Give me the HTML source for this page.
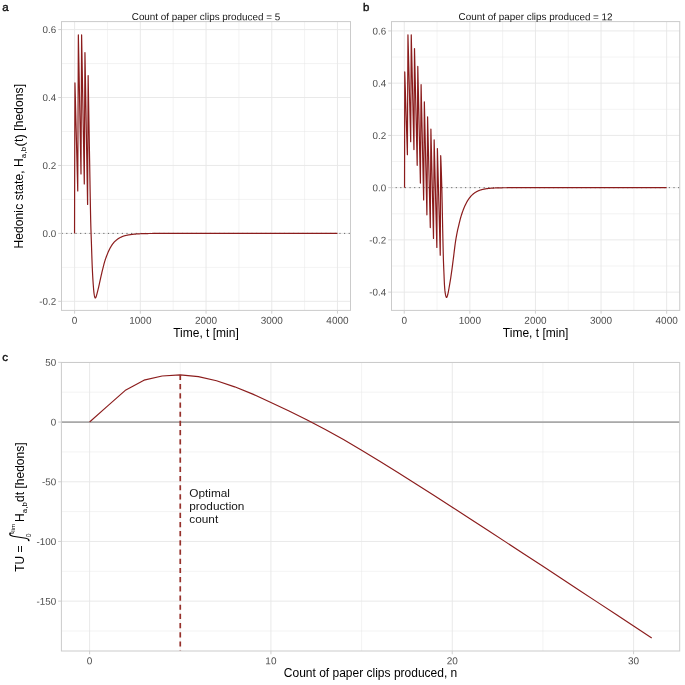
<!DOCTYPE html>
<html lang="en">
<head>
<meta charset="utf-8">
<title>Hedonic state and total utility of paper clip production</title>
<style>html,body{margin:0;padding:0;background:#fff}svg{display:block}</style>
</head>
<body>
<svg width="685" height="685" viewBox="0 0 685 685" font-family='"Liberation Sans", sans-serif'>
<rect width="685" height="685" fill="#ffffff"/>
<line x1="107.46" y1="21.6" x2="107.46" y2="310.4" stroke="#e7e7e7" stroke-width="0.5"/>
<line x1="173.18" y1="21.6" x2="173.18" y2="310.4" stroke="#e7e7e7" stroke-width="0.5"/>
<line x1="238.90" y1="21.6" x2="238.90" y2="310.4" stroke="#e7e7e7" stroke-width="0.5"/>
<line x1="304.62" y1="21.6" x2="304.62" y2="310.4" stroke="#e7e7e7" stroke-width="0.5"/>
<line x1="61.5" y1="267.37" x2="350.5" y2="267.37" stroke="#e7e7e7" stroke-width="0.5"/>
<line x1="61.5" y1="199.43" x2="350.5" y2="199.43" stroke="#e7e7e7" stroke-width="0.5"/>
<line x1="61.5" y1="131.49" x2="350.5" y2="131.49" stroke="#e7e7e7" stroke-width="0.5"/>
<line x1="61.5" y1="63.55" x2="350.5" y2="63.55" stroke="#e7e7e7" stroke-width="0.5"/>
<line x1="74.60" y1="21.6" x2="74.60" y2="310.4" stroke="#e7e7e7" stroke-width="0.92"/>
<line x1="140.32" y1="21.6" x2="140.32" y2="310.4" stroke="#e7e7e7" stroke-width="0.92"/>
<line x1="206.04" y1="21.6" x2="206.04" y2="310.4" stroke="#e7e7e7" stroke-width="0.92"/>
<line x1="271.76" y1="21.6" x2="271.76" y2="310.4" stroke="#e7e7e7" stroke-width="0.92"/>
<line x1="337.48" y1="21.6" x2="337.48" y2="310.4" stroke="#e7e7e7" stroke-width="0.92"/>
<line x1="61.5" y1="301.34" x2="350.5" y2="301.34" stroke="#e7e7e7" stroke-width="0.92"/>
<line x1="61.5" y1="233.40" x2="350.5" y2="233.40" stroke="#e7e7e7" stroke-width="0.92"/>
<line x1="61.5" y1="165.46" x2="350.5" y2="165.46" stroke="#e7e7e7" stroke-width="0.92"/>
<line x1="61.5" y1="97.52" x2="350.5" y2="97.52" stroke="#e7e7e7" stroke-width="0.92"/>
<line x1="61.5" y1="29.58" x2="350.5" y2="29.58" stroke="#e7e7e7" stroke-width="0.92"/>
<line x1="61.5" y1="233.40" x2="350.5" y2="233.40" stroke="#666" stroke-width="1.0" stroke-dasharray="1.15 3.48" stroke-dashoffset="-0.1"/>
<path d="M74.55 233.45 L74.60 200.00 L74.95 82.90 L77.75 191.00 L78.35 34.90 L81.00 174.00 L81.60 34.90 L84.30 184.00 L84.95 52.60 L87.60 204.40 L88.15 75.50 L88.40 90.53 L88.65 105.37 L88.90 120.01 L89.15 134.46 L89.40 148.72 L89.65 162.83 L89.90 177.56 L90.15 192.49 L90.40 206.61 L90.65 218.91 L90.90 228.44 L91.15 235.66 L91.40 242.50 L91.65 250.16 L91.90 257.88 L92.15 264.72 L92.40 270.28 L92.65 275.25 L92.90 279.63 L93.15 283.40 L93.40 286.75 L93.65 289.78 L93.90 292.33 L94.15 294.23 L94.40 295.71 L94.65 296.81 L94.90 297.46 L95.15 297.91 L95.40 297.97 L95.65 297.71 L95.90 297.30 L96.15 296.68 L96.40 295.81 L96.65 294.93 L96.90 294.05 L97.15 293.14 L97.40 292.19 L97.65 291.21 L97.90 290.22 L98.15 289.20 L98.40 288.15 L98.65 287.07 L98.90 285.95 L99.15 284.81 L99.40 283.66 L99.65 282.49 L99.90 281.33 L100.15 280.17 L100.40 279.04 L100.65 277.92 L100.90 276.82 L101.15 275.73 L101.40 274.63 L101.65 273.54 L101.90 272.46 L102.15 271.39 L102.40 270.34 L102.65 269.31 L102.90 268.30 L103.15 267.31 L103.40 266.33 L103.65 265.36 L103.90 264.40 L104.15 263.46 L104.40 262.56 L104.65 261.68 L104.90 260.85 L105.15 260.06 L105.40 259.30 L105.65 258.58 L105.90 257.89 L106.15 257.21 L106.40 256.55 L106.65 255.90 L106.90 255.26 L107.15 254.61 L107.40 253.98 L107.65 253.35 L107.90 252.73 L108.15 252.13 L108.40 251.55 L108.65 250.99 L108.90 250.45 L109.15 249.94 L109.40 249.43 L109.65 248.94 L109.90 248.46 L110.15 248.00 L110.40 247.55 L110.65 247.11 L110.90 246.68 L111.15 246.27 L111.40 245.86 L111.65 245.47 L111.90 245.08 L112.15 244.70 L112.40 244.34 L112.65 243.99 L112.90 243.66 L113.15 243.34 L113.40 243.03 L113.65 242.74 L113.90 242.45 L114.15 242.18 L114.40 241.92 L114.65 241.66 L114.90 241.41 L115.15 241.17 L115.40 240.93 L115.65 240.71 L115.90 240.48 L116.15 240.27 L116.40 240.05 L116.65 239.85 L116.90 239.65 L117.15 239.46 L117.40 239.27 L117.65 239.09 L117.90 238.92 L118.15 238.75 L118.40 238.58 L118.65 238.42 L118.90 238.26 L119.15 238.11 L119.40 237.97 L119.65 237.83 L119.90 237.69 L120.15 237.56 L120.40 237.44 L120.65 237.31 L120.90 237.20 L121.15 237.08 L121.40 236.97 L121.65 236.86 L121.90 236.75 L122.15 236.64 L122.40 236.54 L122.65 236.43 L122.90 236.33 L123.15 236.23 L123.40 236.14 L123.65 236.05 L123.90 235.96 L124.15 235.88 L124.40 235.81 L124.65 235.74 L124.90 235.68 L125.15 235.61 L125.40 235.55 L125.65 235.49 L125.90 235.44 L126.15 235.38 L126.40 235.33 L126.65 235.28 L126.90 235.23 L127.15 235.18 L127.40 235.13 L127.65 235.08 L127.90 235.04 L128.15 234.99 L128.40 234.95 L128.65 234.91 L128.90 234.87 L129.15 234.83 L129.40 234.79 L129.65 234.75 L129.90 234.71 L130.15 234.68 L130.40 234.64 L130.65 234.61 L130.90 234.57 L131.15 234.54 L131.40 234.50 L131.65 234.47 L131.90 234.44 L132.15 234.41 L132.40 234.38 L132.65 234.35 L132.90 234.32 L133.15 234.29 L133.40 234.26 L133.65 234.23 L133.90 234.20 L134.15 234.18 L134.40 234.15 L134.65 234.13 L134.90 234.11 L135.15 234.09 L135.40 234.07 L135.65 234.05 L135.90 234.03 L136.15 234.01 L136.40 233.99 L136.65 233.97 L136.90 233.95 L137.15 233.93 L137.40 233.91 L137.65 233.89 L137.90 233.88 L138.15 233.86 L138.40 233.85 L138.65 233.83 L138.90 233.82 L139.15 233.80 L139.40 233.79 L139.65 233.78 L139.90 233.77 L140.15 233.76 L140.40 233.75 L140.65 233.74 L140.90 233.73 L141.15 233.72 L141.40 233.71 L141.65 233.70 L141.90 233.69 L142.15 233.68 L142.40 233.67 L142.65 233.67 L142.90 233.66 L143.15 233.65 L143.40 233.64 L143.65 233.63 L143.90 233.63 L144.15 233.62 L144.40 233.61 L144.65 233.60 L144.90 233.60 L145.15 233.59 L145.40 233.58 L145.65 233.58 L145.90 233.57 L146.15 233.57 L146.40 233.56 L146.65 233.56 L146.90 233.55 L147.15 233.54 L147.40 233.54 L147.65 233.54 L147.90 233.53 L148.15 233.53 L148.40 233.52 L148.65 233.52 L148.90 233.51 L149.15 233.51 L149.40 233.51 L149.65 233.50 L149.90 233.50 L150.15 233.50 L150.40 233.50 L150.65 233.49 L150.90 233.49 L151.15 233.49 L151.40 233.48 L151.65 233.48 L151.90 233.48 L152.15 233.48 L152.40 233.47 L152.65 233.47 L152.90 233.47 L153.15 233.47 L153.40 233.46 L153.65 233.46 L153.90 233.46 L154.15 233.46 L154.40 233.45 L154.65 233.45 L154.90 233.45 L155.15 233.45 L155.40 233.45 L155.65 233.44 L155.90 233.44 L156.15 233.44 L156.40 233.44 L156.65 233.44 L156.90 233.43 L157.15 233.43 L157.40 233.43 L157.65 233.43 L157.90 233.43 L158.15 233.42 L158.40 233.42 L158.65 233.42 L158.90 233.42 L159.15 233.42 L159.40 233.42 L159.65 233.42 L159.90 233.41 L160.15 233.41 L160.40 233.41 L160.65 233.41 L160.90 233.41 L161.15 233.41 L161.40 233.41 L161.65 233.41 L161.90 233.41 L162.15 233.40 L162.40 233.40 L162.65 233.40 L162.90 233.40 L163.15 233.40 L163.40 233.40 L163.65 233.40 L163.90 233.40 L164.15 233.40 L164.40 233.40 L164.65 233.40 L164.90 233.40 L165.15 233.40 L165.40 233.40 L165.65 233.40 L165.90 233.40 L166.15 233.40 L166.40 233.40 L166.65 233.40 L166.90 233.40 L167.15 233.40 L167.40 233.40 L167.65 233.40 L167.90 233.40 L168.15 233.40 L168.40 233.40 L168.65 233.40 L168.90 233.40 L169.15 233.40 L169.40 233.40 L169.65 233.40 L169.90 233.40 L170.15 233.40 L170.40 233.40 L170.65 233.40 L170.90 233.40 L171.15 233.40 L171.40 233.40 L171.65 233.40 L171.90 233.40 L172.15 233.40 L172.40 233.40 L172.65 233.40 L172.90 233.40 L173.15 233.40 L173.40 233.40 L173.65 233.40 L173.90 233.40 L174.15 233.40 L174.40 233.40 L174.65 233.40 L174.90 233.40 L175.15 233.40 L175.40 233.40 L175.65 233.40 L175.90 233.40 L176.15 233.40 L176.40 233.40 L176.65 233.40 L176.90 233.40 L177.15 233.40 L177.40 233.40 L177.65 233.40 L177.90 233.40 L178.15 233.40 L178.40 233.40 L178.65 233.40 L178.90 233.40 L179.15 233.40 L179.40 233.40 L179.65 233.40 L179.90 233.40 L337.48 233.40" fill="none" stroke="#8b1c1c" stroke-width="1.2" stroke-linejoin="round" stroke-linecap="butt" />
<rect x="61.5" y="21.6" width="289.0" height="288.79999999999995" fill="none" stroke="#cbcbcb" stroke-width="1"/>
<line x1="74.60" y1="310.4" x2="74.60" y2="313.7" stroke="#cccccc" stroke-width="0.9"/>
<text transform="translate(74.60 323.75) rotate(0.05)" text-anchor="middle" font-size="10.0" fill="#4d4d4d">0</text>
<line x1="140.32" y1="310.4" x2="140.32" y2="313.7" stroke="#cccccc" stroke-width="0.9"/>
<text transform="translate(140.32 323.75) rotate(0.05)" text-anchor="middle" font-size="10.0" fill="#4d4d4d">1000</text>
<line x1="206.04" y1="310.4" x2="206.04" y2="313.7" stroke="#cccccc" stroke-width="0.9"/>
<text transform="translate(206.04 323.75) rotate(0.05)" text-anchor="middle" font-size="10.0" fill="#4d4d4d">2000</text>
<line x1="271.76" y1="310.4" x2="271.76" y2="313.7" stroke="#cccccc" stroke-width="0.9"/>
<text transform="translate(271.76 323.75) rotate(0.05)" text-anchor="middle" font-size="10.0" fill="#4d4d4d">3000</text>
<line x1="337.48" y1="310.4" x2="337.48" y2="313.7" stroke="#cccccc" stroke-width="0.9"/>
<text transform="translate(337.48 323.75) rotate(0.05)" text-anchor="middle" font-size="10.0" fill="#4d4d4d">4000</text>
<line x1="58.2" y1="301.34" x2="61.5" y2="301.34" stroke="#cccccc" stroke-width="0.9"/>
<text transform="translate(56.20 304.84) rotate(0.05)" text-anchor="end" font-size="9.8" fill="#4d4d4d">-0.2</text>
<line x1="58.2" y1="233.40" x2="61.5" y2="233.40" stroke="#cccccc" stroke-width="0.9"/>
<text transform="translate(56.20 236.90) rotate(0.05)" text-anchor="end" font-size="9.8" fill="#4d4d4d">0.0</text>
<line x1="58.2" y1="165.46" x2="61.5" y2="165.46" stroke="#cccccc" stroke-width="0.9"/>
<text transform="translate(56.20 168.96) rotate(0.05)" text-anchor="end" font-size="9.8" fill="#4d4d4d">0.2</text>
<line x1="58.2" y1="97.52" x2="61.5" y2="97.52" stroke="#cccccc" stroke-width="0.9"/>
<text transform="translate(56.20 101.02) rotate(0.05)" text-anchor="end" font-size="9.8" fill="#4d4d4d">0.4</text>
<line x1="58.2" y1="29.58" x2="61.5" y2="29.58" stroke="#cccccc" stroke-width="0.9"/>
<text transform="translate(56.20 33.08) rotate(0.05)" text-anchor="end" font-size="9.8" fill="#4d4d4d">0.6</text>
<text transform="translate(206.00 20.1) rotate(0.05)" text-anchor="middle" font-size="9.9" fill="#151515">Count of paper clips produced = 5</text>
<text x="206.00" y="336.6" text-anchor="middle" font-size="12" fill="#000">Time, t [min]</text>
<text transform="translate(23.3 248.5) rotate(-90)" font-size="12" fill="#000" letter-spacing="0.1">Hedonic state, H<tspan font-size="7.8" dy="3.0" letter-spacing="0.2">a,b</tspan><tspan dy="-2.6" dx="0.3" font-size="13">(</tspan><tspan dy="-0.4">t</tspan><tspan dy="0.4" font-size="13">)</tspan><tspan dy="-0.4"> [hedons]</tspan></text>
<text x="2.3" y="11.45" font-size="11.5" fill="#111" stroke="#111" stroke-width="0.38">a</text>
<line x1="437.05" y1="21.6" x2="437.05" y2="310.4" stroke="#e7e7e7" stroke-width="0.5"/>
<line x1="502.65" y1="21.6" x2="502.65" y2="310.4" stroke="#e7e7e7" stroke-width="0.5"/>
<line x1="568.25" y1="21.6" x2="568.25" y2="310.4" stroke="#e7e7e7" stroke-width="0.5"/>
<line x1="633.85" y1="21.6" x2="633.85" y2="310.4" stroke="#e7e7e7" stroke-width="0.5"/>
<line x1="391.5" y1="266.01" x2="679.75" y2="266.01" stroke="#e7e7e7" stroke-width="0.5"/>
<line x1="391.5" y1="213.77" x2="679.75" y2="213.77" stroke="#e7e7e7" stroke-width="0.5"/>
<line x1="391.5" y1="161.53" x2="679.75" y2="161.53" stroke="#e7e7e7" stroke-width="0.5"/>
<line x1="391.5" y1="109.29" x2="679.75" y2="109.29" stroke="#e7e7e7" stroke-width="0.5"/>
<line x1="391.5" y1="57.05" x2="679.75" y2="57.05" stroke="#e7e7e7" stroke-width="0.5"/>
<line x1="404.25" y1="21.6" x2="404.25" y2="310.4" stroke="#e7e7e7" stroke-width="0.92"/>
<line x1="469.85" y1="21.6" x2="469.85" y2="310.4" stroke="#e7e7e7" stroke-width="0.92"/>
<line x1="535.45" y1="21.6" x2="535.45" y2="310.4" stroke="#e7e7e7" stroke-width="0.92"/>
<line x1="601.05" y1="21.6" x2="601.05" y2="310.4" stroke="#e7e7e7" stroke-width="0.92"/>
<line x1="666.65" y1="21.6" x2="666.65" y2="310.4" stroke="#e7e7e7" stroke-width="0.92"/>
<line x1="391.5" y1="292.13" x2="679.75" y2="292.13" stroke="#e7e7e7" stroke-width="0.92"/>
<line x1="391.5" y1="239.89" x2="679.75" y2="239.89" stroke="#e7e7e7" stroke-width="0.92"/>
<line x1="391.5" y1="187.65" x2="679.75" y2="187.65" stroke="#e7e7e7" stroke-width="0.92"/>
<line x1="391.5" y1="135.41" x2="679.75" y2="135.41" stroke="#e7e7e7" stroke-width="0.92"/>
<line x1="391.5" y1="83.17" x2="679.75" y2="83.17" stroke="#e7e7e7" stroke-width="0.92"/>
<line x1="391.5" y1="30.93" x2="679.75" y2="30.93" stroke="#e7e7e7" stroke-width="0.92"/>
<line x1="391.5" y1="187.65" x2="679.75" y2="187.65" stroke="#666" stroke-width="1.0" stroke-dasharray="1.15 3.48" stroke-dashoffset="0.5"/>
<path d="M404.55 187.65 L404.75 71.90 L407.40 154.70 L407.95 34.85 L410.70 141.70 L411.25 34.85 L413.95 149.60 L414.50 48.50 L417.20 165.30 L417.80 66.40 L420.40 183.10 L421.10 84.70 L423.65 200.00 L424.35 101.80 L426.90 214.80 L427.60 116.80 L430.30 227.60 L430.90 129.00 L433.50 238.50 L434.15 139.80 L436.85 247.40 L437.40 148.50 L440.25 255.20 L440.70 155.70 L440.95 161.30 L441.20 168.00 L441.45 175.64 L441.70 184.06 L441.95 193.49 L442.20 205.04 L442.45 217.70 L442.70 230.25 L442.95 241.54 L443.20 252.09 L443.45 260.91 L443.70 267.51 L443.95 273.34 L444.20 279.45 L444.45 284.83 L444.70 288.32 L444.95 290.92 L445.20 292.87 L445.45 294.38 L445.70 295.57 L445.95 296.40 L446.20 297.10 L446.45 297.49 L446.70 297.37 L446.95 296.94 L447.20 296.34 L447.45 295.68 L447.70 294.78 L447.95 293.70 L448.20 292.57 L448.45 291.32 L448.70 289.94 L448.95 288.48 L449.20 287.01 L449.45 285.57 L449.70 284.13 L449.95 282.68 L450.20 281.18 L450.45 279.64 L450.70 278.04 L450.95 276.39 L451.20 274.69 L451.45 272.95 L451.70 271.17 L451.95 269.33 L452.20 267.46 L452.45 265.55 L452.70 263.63 L452.95 261.69 L453.20 259.75 L453.45 257.81 L453.70 255.82 L453.95 253.77 L454.20 251.69 L454.45 249.62 L454.70 247.58 L454.95 245.62 L455.20 243.75 L455.45 242.03 L455.70 240.43 L455.95 238.91 L456.20 237.45 L456.45 236.04 L456.70 234.69 L456.95 233.39 L457.20 232.13 L457.45 230.91 L457.70 229.73 L457.95 228.62 L458.20 227.56 L458.45 226.54 L458.70 225.53 L458.95 224.51 L459.20 223.46 L459.45 222.41 L459.70 221.36 L459.95 220.33 L460.20 219.35 L460.45 218.42 L460.70 217.53 L460.95 216.67 L461.20 215.83 L461.45 215.02 L461.70 214.23 L461.95 213.47 L462.20 212.74 L462.45 212.03 L462.70 211.33 L462.95 210.66 L463.20 209.99 L463.45 209.34 L463.70 208.71 L463.95 208.09 L464.20 207.48 L464.45 206.89 L464.70 206.32 L464.95 205.76 L465.20 205.21 L465.45 204.68 L465.70 204.17 L465.95 203.66 L466.20 203.17 L466.45 202.70 L466.70 202.23 L466.95 201.79 L467.20 201.35 L467.45 200.93 L467.70 200.52 L467.95 200.13 L468.20 199.74 L468.45 199.36 L468.70 198.99 L468.95 198.63 L469.20 198.29 L469.45 197.95 L469.70 197.63 L469.95 197.33 L470.20 197.03 L470.45 196.74 L470.70 196.45 L470.95 196.17 L471.20 195.90 L471.45 195.64 L471.70 195.38 L471.95 195.13 L472.20 194.88 L472.45 194.65 L472.70 194.42 L472.95 194.20 L473.20 193.98 L473.45 193.78 L473.70 193.58 L473.95 193.38 L474.20 193.20 L474.45 193.02 L474.70 192.84 L474.95 192.67 L475.20 192.50 L475.45 192.34 L475.70 192.19 L475.95 192.04 L476.20 191.90 L476.45 191.76 L476.70 191.62 L476.95 191.49 L477.20 191.36 L477.45 191.24 L477.70 191.12 L477.95 191.00 L478.20 190.89 L478.45 190.78 L478.70 190.68 L478.95 190.58 L479.20 190.48 L479.45 190.39 L479.70 190.30 L479.95 190.21 L480.20 190.12 L480.45 190.04 L480.70 189.96 L480.95 189.88 L481.20 189.81 L481.45 189.74 L481.70 189.67 L481.95 189.60 L482.20 189.53 L482.45 189.47 L482.70 189.41 L482.95 189.35 L483.20 189.29 L483.45 189.24 L483.70 189.18 L483.95 189.13 L484.20 189.08 L484.45 189.04 L484.70 188.99 L484.95 188.95 L485.20 188.91 L485.45 188.87 L485.70 188.83 L485.95 188.79 L486.20 188.75 L486.45 188.71 L486.70 188.68 L486.95 188.64 L487.20 188.61 L487.45 188.58 L487.70 188.54 L487.95 188.51 L488.20 188.48 L488.45 188.45 L488.70 188.43 L488.95 188.40 L489.20 188.37 L489.45 188.35 L489.70 188.33 L489.95 188.30 L490.20 188.28 L490.45 188.26 L490.70 188.24 L490.95 188.22 L491.20 188.21 L491.45 188.19 L491.70 188.17 L491.95 188.15 L492.20 188.13 L492.45 188.12 L492.70 188.10 L492.95 188.09 L493.20 188.07 L493.45 188.06 L493.70 188.04 L493.95 188.03 L494.20 188.02 L494.45 188.00 L494.70 187.99 L494.95 187.98 L495.20 187.97 L495.45 187.96 L495.70 187.95 L495.95 187.94 L496.20 187.93 L496.45 187.93 L496.70 187.92 L496.95 187.91 L497.20 187.90 L497.45 187.89 L497.70 187.89 L497.95 187.88 L498.20 187.87 L498.45 187.87 L498.70 187.86 L498.95 187.85 L499.20 187.85 L499.45 187.84 L499.70 187.83 L499.95 187.83 L500.20 187.82 L500.45 187.81 L500.70 187.81 L500.95 187.80 L501.20 187.80 L501.45 187.79 L501.70 187.79 L501.95 187.78 L502.20 187.78 L502.45 187.77 L502.70 187.77 L502.95 187.76 L503.20 187.76 L503.45 187.76 L503.70 187.75 L503.95 187.75 L504.20 187.75 L504.45 187.74 L504.70 187.74 L504.95 187.74 L505.20 187.74 L505.45 187.73 L505.70 187.73 L505.95 187.73 L506.20 187.73 L506.45 187.73 L506.70 187.73 L506.95 187.72 L507.20 187.72 L507.45 187.72 L507.70 187.72 L507.95 187.72 L508.20 187.72 L508.45 187.72 L508.70 187.72 L508.95 187.71 L509.20 187.71 L509.45 187.71 L509.70 187.71 L509.95 187.71 L510.20 187.71 L510.45 187.71 L510.70 187.71 L510.95 187.71 L511.20 187.70 L511.45 187.70 L511.70 187.70 L511.95 187.70 L512.20 187.70 L512.45 187.70 L512.70 187.70 L512.95 187.70 L513.20 187.70 L513.45 187.70 L513.70 187.69 L513.95 187.69 L514.20 187.69 L514.45 187.69 L514.70 187.69 L514.95 187.69 L515.20 187.69 L515.45 187.69 L515.70 187.69 L515.95 187.69 L516.20 187.69 L516.45 187.69 L516.70 187.68 L516.95 187.68 L517.20 187.68 L517.45 187.68 L517.70 187.68 L517.95 187.68 L518.20 187.68 L518.45 187.68 L518.70 187.68 L518.95 187.68 L519.20 187.68 L519.45 187.68 L519.70 187.68 L519.95 187.68 L520.20 187.68 L520.45 187.67 L520.70 187.67 L520.95 187.67 L521.20 187.67 L521.45 187.67 L521.70 187.67 L521.95 187.67 L522.20 187.67 L522.45 187.67 L522.70 187.67 L522.95 187.67 L523.20 187.67 L523.45 187.67 L523.70 187.67 L523.95 187.67 L524.20 187.67 L524.45 187.67 L524.70 187.67 L524.95 187.67 L525.20 187.67 L525.45 187.67 L525.70 187.67 L525.95 187.66 L526.20 187.66 L526.45 187.66 L526.70 187.66 L526.95 187.66 L527.20 187.66 L527.45 187.66 L527.70 187.66 L527.95 187.66 L528.20 187.66 L528.45 187.66 L528.70 187.66 L528.95 187.66 L529.20 187.66 L529.45 187.66 L529.70 187.66 L529.95 187.66 L530.20 187.66 L530.45 187.66 L530.70 187.66 L530.95 187.66 L531.20 187.66 L531.45 187.66 L531.70 187.66 L531.95 187.66 L532.20 187.66 L532.45 187.66 L532.70 187.66 L532.95 187.66 L533.20 187.66 L533.45 187.66 L533.70 187.66 L533.95 187.66 L534.20 187.66 L534.45 187.66 L534.70 187.66 L534.95 187.66 L535.20 187.65 L535.45 187.65 L535.70 187.65 L535.95 187.65 L536.20 187.65 L536.45 187.65 L536.70 187.65 L536.95 187.65 L537.20 187.65 L537.45 187.65 L537.70 187.65 L537.95 187.65 L538.20 187.65 L538.45 187.65 L538.70 187.65 L538.95 187.65 L539.20 187.65 L539.45 187.65 L539.70 187.65 L539.95 187.65 L540.20 187.65 L540.45 187.65 L540.70 187.65 L540.95 187.65 L541.20 187.65 L541.45 187.65 L541.70 187.65 L541.95 187.65 L542.20 187.65 L542.45 187.65 L542.70 187.65 L542.95 187.65 L543.20 187.65 L543.45 187.65 L543.70 187.65 L543.95 187.65 L544.20 187.65 L544.45 187.65 L544.70 187.65 L544.95 187.65 L666.65 187.65" fill="none" stroke="#8b1c1c" stroke-width="1.2" stroke-linejoin="round" stroke-linecap="butt" />
<rect x="391.5" y="21.6" width="288.25" height="288.79999999999995" fill="none" stroke="#cbcbcb" stroke-width="1"/>
<line x1="404.25" y1="310.4" x2="404.25" y2="313.7" stroke="#cccccc" stroke-width="0.9"/>
<text transform="translate(404.25 323.75) rotate(0.05)" text-anchor="middle" font-size="10.0" fill="#4d4d4d">0</text>
<line x1="469.85" y1="310.4" x2="469.85" y2="313.7" stroke="#cccccc" stroke-width="0.9"/>
<text transform="translate(469.85 323.75) rotate(0.05)" text-anchor="middle" font-size="10.0" fill="#4d4d4d">1000</text>
<line x1="535.45" y1="310.4" x2="535.45" y2="313.7" stroke="#cccccc" stroke-width="0.9"/>
<text transform="translate(535.45 323.75) rotate(0.05)" text-anchor="middle" font-size="10.0" fill="#4d4d4d">2000</text>
<line x1="601.05" y1="310.4" x2="601.05" y2="313.7" stroke="#cccccc" stroke-width="0.9"/>
<text transform="translate(601.05 323.75) rotate(0.05)" text-anchor="middle" font-size="10.0" fill="#4d4d4d">3000</text>
<line x1="666.65" y1="310.4" x2="666.65" y2="313.7" stroke="#cccccc" stroke-width="0.9"/>
<text transform="translate(666.65 323.75) rotate(0.05)" text-anchor="middle" font-size="10.0" fill="#4d4d4d">4000</text>
<line x1="388.2" y1="292.13" x2="391.5" y2="292.13" stroke="#cccccc" stroke-width="0.9"/>
<text transform="translate(386.20 295.63) rotate(0.05)" text-anchor="end" font-size="9.8" fill="#4d4d4d">-0.4</text>
<line x1="388.2" y1="239.89" x2="391.5" y2="239.89" stroke="#cccccc" stroke-width="0.9"/>
<text transform="translate(386.20 243.39) rotate(0.05)" text-anchor="end" font-size="9.8" fill="#4d4d4d">-0.2</text>
<line x1="388.2" y1="187.65" x2="391.5" y2="187.65" stroke="#cccccc" stroke-width="0.9"/>
<text transform="translate(386.20 191.15) rotate(0.05)" text-anchor="end" font-size="9.8" fill="#4d4d4d">0.0</text>
<line x1="388.2" y1="135.41" x2="391.5" y2="135.41" stroke="#cccccc" stroke-width="0.9"/>
<text transform="translate(386.20 138.91) rotate(0.05)" text-anchor="end" font-size="9.8" fill="#4d4d4d">0.2</text>
<line x1="388.2" y1="83.17" x2="391.5" y2="83.17" stroke="#cccccc" stroke-width="0.9"/>
<text transform="translate(386.20 86.67) rotate(0.05)" text-anchor="end" font-size="9.8" fill="#4d4d4d">0.4</text>
<line x1="388.2" y1="30.93" x2="391.5" y2="30.93" stroke="#cccccc" stroke-width="0.9"/>
<text transform="translate(386.20 34.43) rotate(0.05)" text-anchor="end" font-size="9.8" fill="#4d4d4d">0.6</text>
<text transform="translate(535.62 20.1) rotate(0.05)" text-anchor="middle" font-size="9.9" fill="#151515">Count of paper clips produced = 12</text>
<text x="535.62" y="336.6" text-anchor="middle" font-size="12" fill="#000">Time, t [min]</text>
<text x="363.0" y="11.45" font-size="11.5" fill="#111" stroke="#111" stroke-width="0.38">b</text>
<line x1="180.26" y1="362.5" x2="180.26" y2="651.0" stroke="#e7e7e7" stroke-width="0.5"/>
<line x1="361.60" y1="362.5" x2="361.60" y2="651.0" stroke="#e7e7e7" stroke-width="0.5"/>
<line x1="542.92" y1="362.5" x2="542.92" y2="651.0" stroke="#e7e7e7" stroke-width="0.5"/>
<line x1="61.4" y1="631.00" x2="679.7" y2="631.00" stroke="#e7e7e7" stroke-width="0.5"/>
<line x1="61.4" y1="571.30" x2="679.7" y2="571.30" stroke="#e7e7e7" stroke-width="0.5"/>
<line x1="61.4" y1="511.60" x2="679.7" y2="511.60" stroke="#e7e7e7" stroke-width="0.5"/>
<line x1="61.4" y1="451.90" x2="679.7" y2="451.90" stroke="#e7e7e7" stroke-width="0.5"/>
<line x1="61.4" y1="392.20" x2="679.7" y2="392.20" stroke="#e7e7e7" stroke-width="0.5"/>
<line x1="89.60" y1="362.5" x2="89.60" y2="651.0" stroke="#e7e7e7" stroke-width="0.92"/>
<line x1="270.93" y1="362.5" x2="270.93" y2="651.0" stroke="#e7e7e7" stroke-width="0.92"/>
<line x1="452.26" y1="362.5" x2="452.26" y2="651.0" stroke="#e7e7e7" stroke-width="0.92"/>
<line x1="633.59" y1="362.5" x2="633.59" y2="651.0" stroke="#e7e7e7" stroke-width="0.92"/>
<line x1="61.4" y1="601.15" x2="679.7" y2="601.15" stroke="#e7e7e7" stroke-width="0.92"/>
<line x1="61.4" y1="541.45" x2="679.7" y2="541.45" stroke="#e7e7e7" stroke-width="0.92"/>
<line x1="61.4" y1="481.75" x2="679.7" y2="481.75" stroke="#e7e7e7" stroke-width="0.92"/>
<line x1="61.4" y1="422.05" x2="679.7" y2="422.05" stroke="#e7e7e7" stroke-width="0.92"/>
<line x1="61.4" y1="362.35" x2="679.7" y2="362.35" stroke="#e7e7e7" stroke-width="0.92"/>
<line x1="61.4" y1="422.05" x2="679.7" y2="422.05" stroke="#a9a9a9" stroke-width="1.75"/>
<path d="M89.60 422.05 L107.73 405.93 L125.87 389.93 L144.00 380.14 L162.13 375.96 L180.26 374.89 L198.40 376.68 L216.53 380.74 L234.66 386.83 L252.80 394.11 L270.93 402.59 L289.06 410.95 L307.20 419.90 L325.33 429.45 L343.46 439.60 L361.60 450.23 L379.73 461.21 L397.86 472.44 L415.99 483.90 L434.13 495.48 L452.26 507.18 L470.39 519.00 L488.53 530.82 L506.66 542.64 L524.79 554.46 L542.92 566.29 L561.06 578.23 L579.19 590.17 L597.32 602.11 L615.46 614.05 L633.59 625.99 L651.72 637.93" fill="none" stroke="#8b1c1c" stroke-width="1.15" stroke-linejoin="round" stroke-linecap="butt" />
<line x1="180.26" y1="374.89" x2="180.26" y2="651.0" stroke="#96302a" stroke-width="1.7" stroke-dasharray="5.2 3.99"/>
<rect x="61.4" y="362.5" width="618.3000000000001" height="288.5" fill="none" stroke="#cbcbcb" stroke-width="1"/>
<line x1="89.60" y1="651.0" x2="89.60" y2="654.3" stroke="#cccccc" stroke-width="0.9"/>
<text transform="translate(89.60 664.35) rotate(0.05)" text-anchor="middle" font-size="10.0" fill="#4d4d4d">0</text>
<line x1="270.93" y1="651.0" x2="270.93" y2="654.3" stroke="#cccccc" stroke-width="0.9"/>
<text transform="translate(270.93 664.35) rotate(0.05)" text-anchor="middle" font-size="10.0" fill="#4d4d4d">10</text>
<line x1="452.26" y1="651.0" x2="452.26" y2="654.3" stroke="#cccccc" stroke-width="0.9"/>
<text transform="translate(452.26 664.35) rotate(0.05)" text-anchor="middle" font-size="10.0" fill="#4d4d4d">20</text>
<line x1="633.59" y1="651.0" x2="633.59" y2="654.3" stroke="#cccccc" stroke-width="0.9"/>
<text transform="translate(633.59 664.35) rotate(0.05)" text-anchor="middle" font-size="10.0" fill="#4d4d4d">30</text>
<line x1="58.1" y1="601.15" x2="61.4" y2="601.15" stroke="#cccccc" stroke-width="0.9"/>
<text transform="translate(56.10 604.65) rotate(0.05)" text-anchor="end" font-size="9.8" fill="#4d4d4d">-150</text>
<line x1="58.1" y1="541.45" x2="61.4" y2="541.45" stroke="#cccccc" stroke-width="0.9"/>
<text transform="translate(56.10 544.95) rotate(0.05)" text-anchor="end" font-size="9.8" fill="#4d4d4d">-100</text>
<line x1="58.1" y1="481.75" x2="61.4" y2="481.75" stroke="#cccccc" stroke-width="0.9"/>
<text transform="translate(56.10 485.25) rotate(0.05)" text-anchor="end" font-size="9.8" fill="#4d4d4d">-50</text>
<line x1="58.1" y1="422.05" x2="61.4" y2="422.05" stroke="#cccccc" stroke-width="0.9"/>
<text transform="translate(56.10 425.55) rotate(0.05)" text-anchor="end" font-size="9.8" fill="#4d4d4d">0</text>
<line x1="58.1" y1="362.35" x2="61.4" y2="362.35" stroke="#cccccc" stroke-width="0.9"/>
<text transform="translate(56.10 365.85) rotate(0.05)" text-anchor="end" font-size="9.8" fill="#4d4d4d">50</text>
<text x="370.55" y="677.4" text-anchor="middle" font-size="12" fill="#000">Count of paper clips produced, n</text>
<text x="2.3" y="361.4" font-size="11.5" fill="#111" stroke="#111" stroke-width="0.38">c</text>
<text x="189.3" y="497.30" font-size="11.8" fill="#151515">Optimal</text>
<text x="189.3" y="509.90" font-size="11.8" fill="#151515">production</text>
<text x="189.3" y="522.50" font-size="11.8" fill="#151515">count</text>
<g transform="translate(23.8 571.8) rotate(-90)" fill="#000"><text x="0" y="0" font-size="12">TU = </text><text transform="translate(33.6 1.6) skewX(-9) scale(0.95 1.54)" x="0" y="0" font-size="14" text-anchor="middle">∫</text><text x="34.6" y="7.3" font-size="6.8">0</text><text x="37.9" y="-9.5" font-size="7.2">t<tspan font-size="6.0" dy="0.9" dx="0.2">lim</tspan></text><text x="49.8" y="0" font-size="12">H<tspan font-size="7.8" dy="3.0" letter-spacing="0.2">a,b</tspan><tspan dy="-3.0">dt [hedons]</tspan></text></g>
</svg>
</body>
</html>
